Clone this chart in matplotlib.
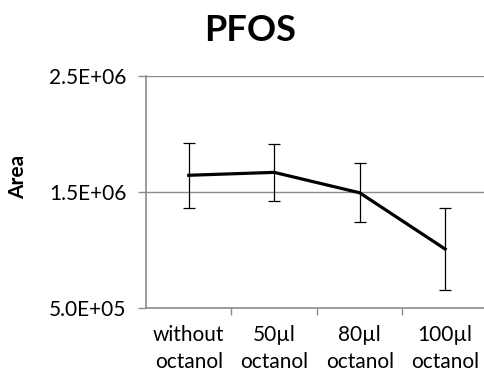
import matplotlib
matplotlib.use("Agg")
import matplotlib.pyplot as plt
import matplotlib.ticker as mticker

# Données
categories = ["without\noctanol", "50µl\noctanol", "80µl\noctanol", "100µl\noctanol"]
area = [1.645e6, 1.670e6, 1.494e6, 1.009e6]
area_err = [0.28e6, 0.245e6, 0.255e6, 0.355e6]
y_ticks = [5.0e5, 1.5e6, 2.5e6]

plt.rcParams["font.family"] = ["Lato", "DejaVu Sans"]

fig = plt.figure(figsize=(4.85, 3.73), dpi=100)
ax = fig.add_axes([0.301, 0.174, 0.705, 0.622])

x = list(range(len(categories)))
ax.plot(x, area, color="black", linewidth=2.3, solid_joinstyle="miter", zorder=3)
ax.errorbar(x, area, yerr=area_err, fmt="none", ecolor="black",
            elinewidth=0.9, capsize=4, capthick=0.9, zorder=3)

# Axes style Excel
ax.set_xlim(-0.5, len(categories) - 0.5)
ax.set_ylim(y_ticks[0], y_ticks[-1])
ax.set_yticks(y_ticks)
ax.yaxis.set_major_formatter(mticker.FormatStrFormatter("%.1E"))
ax.grid(axis="y", color="#8c8c8c", linewidth=1.0)
ax.set_axisbelow(True)

ax.set_xticks(x)
ax.set_xticklabels(categories, fontsize=15, linespacing=1.45)
ax.set_xticks([i + 0.5 for i in x[:-1]], minor=True)
ax.tick_params(axis="x", which="major", length=0, pad=12)
ax.tick_params(axis="x", which="minor", length=5, color="#8c8c8c", width=1)
ax.tick_params(axis="y", length=6, color="#8c8c8c", width=1, labelsize=15, pad=8)

for side in ["top", "right"]:
    ax.spines[side].set_visible(False)
for side in ["left", "bottom"]:
    ax.spines[side].set_color("#8c8c8c")
    ax.spines[side].set_linewidth(1.2)

ax.set_ylabel("Area", fontsize=15, fontweight="bold")
ax.yaxis.set_label_coords(-0.345, 0.565)

fig.text(0.515, 0.918, "PFOS", ha="center", va="center", fontsize=26, fontweight="bold")

fig.savefig("out.png", dpi=100)
